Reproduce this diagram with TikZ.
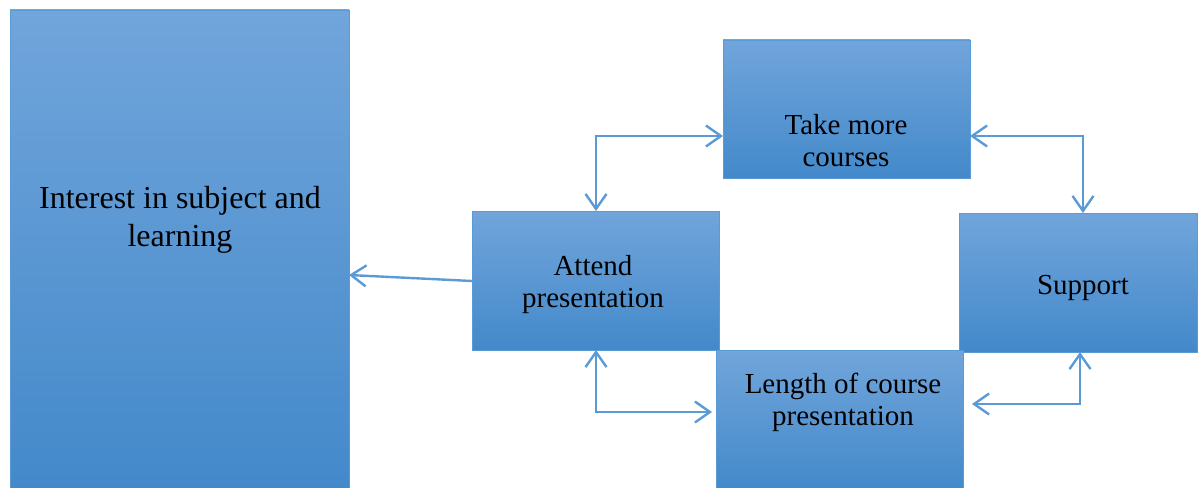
\documentclass[tikz,border=0pt]{standalone}
\usepackage{fontspec}
\setmainfont{Liberation Serif}
\usetikzlibrary{arrows.meta}
\definecolor{boxtop}{RGB}{113,165,219}
\definecolor{boxbot}{RGB}{67,137,202}
\definecolor{boxline}{RGB}{91,155,213}
\definecolor{linkcol}{RGB}{91,155,213}
\tikzset{
  box/.style={rectangle, draw=boxline, line width=0.8pt, top color=boxtop,
    bottom color=boxbot, anchor=north west, inner sep=0pt, outer sep=0pt},
  lbl/.style={align=center, text=black, inner sep=0pt,
    font=\fontsize{29}{32}\selectfont},
  link/.style={draw=linkcol, line width=2.4pt,
    arrows={Straight Barb[length=15pt,width=21pt,line width=2.4pt]-}},
  biglink/.style={link, arrows={Straight Barb[length=15pt,width=21pt,line width=2.4pt]-Straight Barb[length=15pt,width=21pt,line width=2.4pt]}}
}
\begin{document}
\begin{tikzpicture}[x=1pt,y=-1pt]
    \useasboundingbox (0,0) rectangle (1198,487);

    % Boxes
    \node[box, minimum width=339pt, minimum height=480pt] (interest) at (10,10) {};
    \node[box, minimum width=247pt, minimum height=138pt] (take) at (723,40) {};
    \node[box, minimum width=247pt, minimum height=139pt] (attend) at (472,211) {};
    \node[box, minimum width=238pt, minimum height=139pt] (support) at (959,213) {};
    \node[box, minimum width=247pt, minimum height=140pt] (length) at (716,350) {};

    % Texts
    \node[lbl, font=\fontsize{32}{38}\selectfont] (interesttxt) at (180,220) {Interest in subject and\\learning};
    \node[lbl] (taketxt) at (846,141) {Take more\\courses};
    \node[lbl] (attendtxt) at (593,285) {Attend\\presentation};
    \node[lbl] (supporttxt) at (1083,288) {Support};
    \node[lbl] (lengthtxt) at (843,402) {Length of course\\presentation};

    % Corner points of the links
    \coordinate (c1) at (596,136);
    \coordinate (c2) at (1083,136);
    \coordinate (c3) at (596,412);
    \coordinate (c4) at (1080,404);

    % Links
    \draw[link] (interest.east |- 0,275) -- (attend.west |- 0,281);
    \draw[biglink] (attend.north -| c1) -- (c1) -- (take.west |- c1);
    \draw[biglink] (take.east |- c2) -- (c2) -- (support.north -| c2);
    \draw[biglink] (attend.south -| c3) -- (c3) -- ([xshift=-4pt]length.west |- c3);
    \draw[biglink] ([xshift=9pt]length.east |- c4) -- (c4) -- (support.south -| c4);

\end{tikzpicture}
\end{document}
